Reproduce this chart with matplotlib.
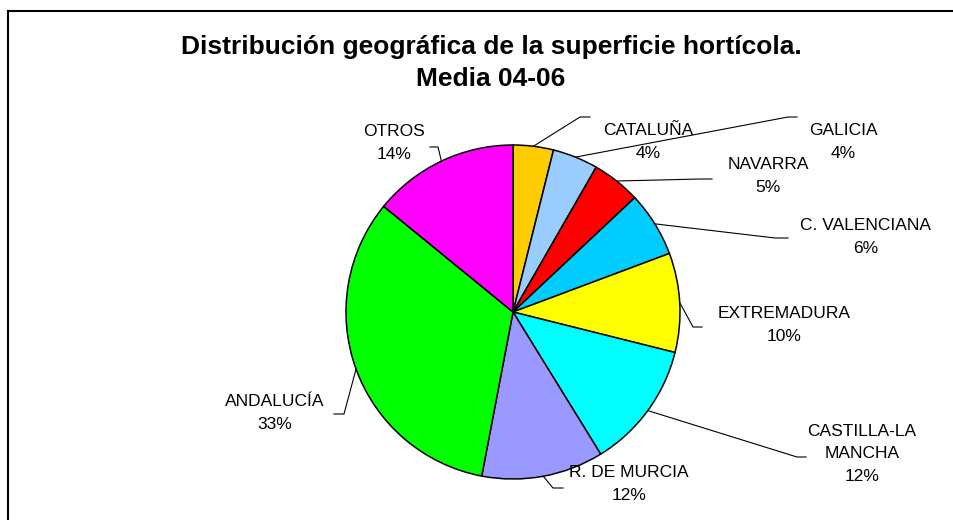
import numpy as np
import matplotlib
matplotlib.use("Agg")
import matplotlib.pyplot as plt

plt.rcParams['font.family'] = ['Liberation Sans', 'DejaVu Sans']

# data (clockwise from 12 o'clock)
regions = ["CATALUÑA", "GALICIA", "NAVARRA", "C. VALENCIANA", "EXTREMADURA",
           "CASTILLA-LA\nMANCHA", "R. DE MURCIA", "ANDALUCÍA", "OTROS"]
shares = [3.9, 4.4, 4.7, 6.3, 9.6, 12.3, 11.8, 32.9, 14.1]
colors = ["#FFCC00", "#99CCFF", "#FF0000", "#00CCFF", "#FFFF00",
          "#00FFFF", "#9999FF", "#00FF00", "#FF00FF"]

# label layout in pixels (text centre x, text centre y, elbow x, elbow y, tail x)
label_pos = [
    (648, 142, 580, 117, 590),
    (843, 142, 788, 117, 797),
    (768, 176, 700, 179, 712),
    (866, 237, 775, 238, 788),
    (784, 325, 693, 327, 702),
    (862, 454, 797, 457, 806),
    (629, 484, 553, 488, 563),
    (275, 413, 344, 414, 334),
    (394, 143, 438, 147, 430),
]

W, H = 954, 520
cx, cy, R = 513, 312, 167

fig = plt.figure(figsize=(9.54, 5.20), dpi=100)
ax = fig.add_axes([0, 0, 1, 1])

wedges, _ = ax.pie(shares, colors=colors, startangle=90, counterclock=False,
                   center=(cx, H - cy), radius=R,
                   wedgeprops=dict(edgecolor="black", linewidth=1.1))

total = sum(shares)
for w, name, val, (tx, ty, ex, ey, tail) in zip(wedges, regions, shares, label_pos):
    mid = np.deg2rad((w.theta1 + w.theta2) / 2)
    ax_x = cx + R * np.cos(mid)
    ax_y = H - cy + R * np.sin(mid)
    ax.plot([ax_x, ex, tail], [ax_y, H - ey, H - ey], color="black", lw=0.8)
    pct = "%d%%" % round(val / total * 100)
    ax.text(tx, H - ty, name + "\n" + pct, ha="center", va="center",
            fontsize=12.5, linespacing=1.6, color="black")

# title
ax.text(491, H - 47, "Distribución geográfica de la superficie hortícola.",
        ha="center", va="center", fontsize=19, fontweight="bold")
ax.text(491, H - 79, "Media 04-06", ha="center", va="center",
        fontsize=19, fontweight="bold")

# chart area frame (left + top only visible)
ax.plot([8, 8], [0, H - 11], color="black", lw=1.5)
ax.plot([8, 953], [H - 11, H - 11], color="black", lw=1.5)

ax.set_xlim(0, W)
ax.set_ylim(0, H)
ax.set_aspect("equal")
ax.axis("off")

fig.savefig("out.png", dpi=100)
